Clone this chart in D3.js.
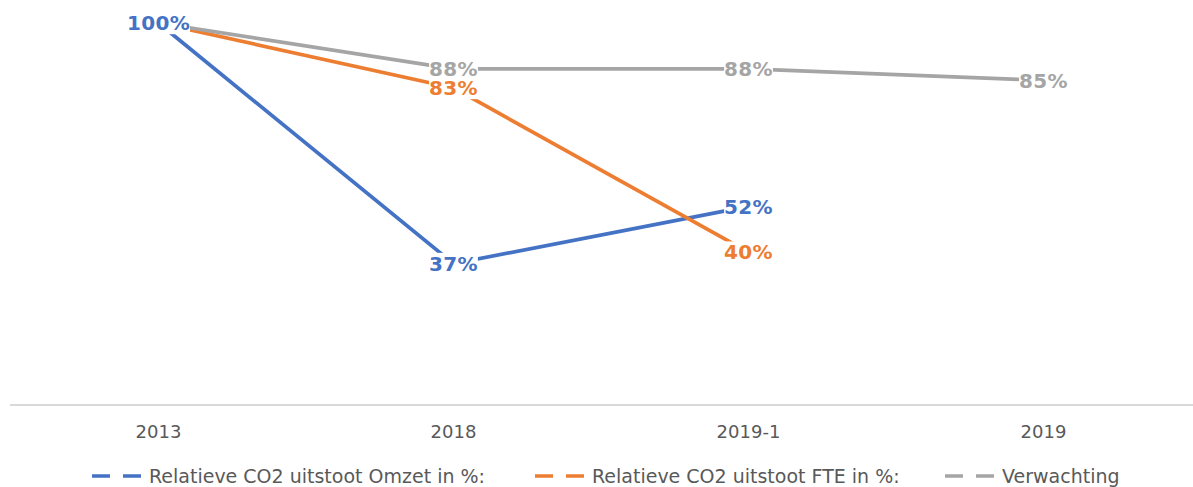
<!DOCTYPE html>
<html>
<head>
<meta charset="utf-8">
<script src="https://cdn.jsdelivr.net/npm/d3@7"></script>
<style>
  body { margin: 0; background: #fff; }
  svg { display: block; font-family: "DejaVu Sans", Verdana, sans-serif; }
</style>
</head>
<body>
<div id="chart"></div>
<script>
const categories = ["2013", "2018", "2019-1", "2019"];
const omzetValues = [100, 37, 52, null];
const fteValues = [100, 83, 40, null];
const verwachtingValues = [100, 88, 88, 85];

const series = [
  { name: "Relatieve CO2 uitstoot Omzet in %:", values: omzetValues, color: "#4472C4" },
  { name: "Relatieve CO2 uitstoot FTE in %:", values: fteValues, color: "#ED7D31" },
  { name: "Verwachting", values: verwachtingValues, color: "#A5A5A5" }
];

const width = 1193, height = 487;

const svg = d3.select("#chart").append("svg")
  .attr("width", width)
  .attr("height", height);

const x = d3.scalePoint()
  .domain(categories)
  .range([11, 1191])
  .padding(0.5);

const y = d3.scaleLinear()
  .domain([0, 100])
  .range([405, 23]);

// axis line + labels
svg.append("line")
  .attr("x1", 10).attr("x2", width)
  .attr("y1", y(0)).attr("y2", y(0))
  .attr("stroke", "#d9d9d9")
  .attr("stroke-width", 2);

svg.append("g")
  .selectAll("text")
  .data(categories)
  .join("text")
  .attr("x", d => x(d))
  .attr("y", 438)
  .attr("text-anchor", "middle")
  .attr("fill", "#595959")
  .style("font-size", "18px")
  .text(d => d);

// lines
const line = d3.line()
  .defined(d => d.v != null)
  .x(d => x(d.c))
  .y(d => y(d.v));

series.forEach(s => {
  const pts = categories.map((c, i) => ({ c, v: s.values[i] }));
  svg.append("path")
    .datum(pts)
    .attr("d", line)
    .attr("fill", "none")
    .attr("stroke", s.color)
    .attr("stroke-width", 3.7)
    .attr("stroke-linejoin", "round");
});

// data labels (white box hides the line underneath, like Excel)
// the shared 100% start point only shows one label
const labels = [];
series.forEach((s, si) => {
  s.values.forEach((v, i) => {
    if (v == null) return;
    if (i === 0 && si > 0) return;
    labels.push({ c: categories[i], v, color: s.color });
  });
});

const boxG = svg.append("g");
const textG = svg.append("g");

const texts = textG.selectAll("text")
  .data(labels)
  .join("text")
  .attr("x", d => x(d.c))
  .attr("y", d => y(d.v))
  .attr("dy", "0.36em")
  .attr("text-anchor", "middle")
  .attr("fill", d => d.color)
  .style("font-size", "20px")
  .style("font-weight", "bold")
  .style("letter-spacing", "0.3px")
  .text(d => d.v + "%");

texts.each(function () {
  const b = this.getBBox();
  boxG.append("rect")
    .attr("x", b.x)
    .attr("y", b.y + 1)
    .attr("width", b.width)
    .attr("height", b.height - 2)
    .attr("fill", "#fff");
});

// legend
const legendX = [92, 535, 945];
const legend = svg.append("g");
series.forEach((s, i) => {
  const g = legend.append("g").attr("transform", `translate(${legendX[i]},476)`);
  g.append("line")
    .attr("x1", 0).attr("x2", 56)
    .attr("stroke", s.color)
    .attr("stroke-width", 3.5)
    .attr("stroke-dasharray", "18,13");
  g.append("text")
    .attr("x", 57)
    .attr("dy", "0.36em")
    .attr("fill", "#595959")
    .style("font-size", "19px")
    .text(s.name);
});
</script>
</body>
</html>
